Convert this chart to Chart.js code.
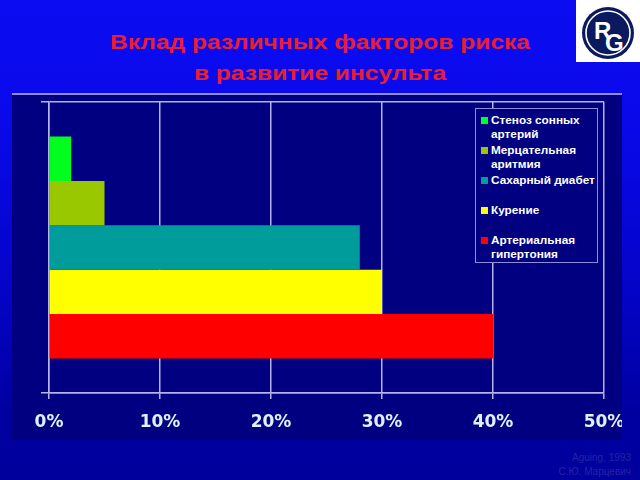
<!DOCTYPE html>
<html lang="ru">
<head>
<meta charset="utf-8">
<title>Вклад различных факторов риска в развитие инсульта</title>
<script src="https://cdn.jsdelivr.net/npm/chart.js@4/dist/chart.umd.min.js"></script>
<style>
  html, body {
    margin: 0;
    padding: 0;
  }
  body {
    width: 640px;
    height: 480px;
    overflow: hidden;
    position: relative;
    font-family: "Liberation Sans", Arial, sans-serif;
    background: linear-gradient(#0c0cf2 0%, #0909ea 25%, #0404c8 60%, #0000a2 85%, #00009c 100%);
  }
  #title {
    position: absolute;
    left: 0;
    top: 26px;
    width: 640px;
    text-align: center;
    color: #e8202e;
    font-weight: bold;
    font-size: 21px;
    line-height: 31px;
    transform: scaleX(1.17);
    transform-origin: 320px 0;
  }
  #logo {
    position: absolute;
    left: 576px;
    top: 0;
  }
  #panel {
    position: absolute;
    left: 12px;
    top: 93px;
    width: 610px;
    height: 347px;
    background: #000080;
    overflow: hidden;
  }
  #panel::before {
    content: "";
    position: absolute;
    left: 0;
    top: 0;
    width: 100%;
    height: 2px;
    background: #8e8ed6;
  }
  #legend {
    position: absolute;
    left: 475px;
    top: 108px;
    width: 121px;
    height: 153px;
    background: #000080;
    border: 1px solid #8e8ed6;
  }
  .legend-item {
    position: absolute;
    left: 15px;
    color: #ffffff;
    font-weight: bold;
    font-size: 11px;
    line-height: 14px;
    white-space: nowrap;
    transform: scaleX(1.07);
    transform-origin: 0 0;
  }
  .legend-swatch {
    position: absolute;
    left: 5px;
    width: 7px;
    height: 7px;
  }
  #source {
    position: absolute;
    right: 9px;
    top: 451px;
    text-align: right;
    color: #2424a8;
    font-size: 10px;
    line-height: 14px;
  }
</style>
</head>
<body>

<div id="title">Вклад различных факторов риска<br>в развитие инсульта</div>

<svg id="logo" width="64" height="62" viewBox="0 0 64 62">
  <rect x="0" y="0" width="64" height="62" fill="#ffffff"></rect>
  <circle cx="32" cy="33" r="26" fill="#0b1a5e"></circle>
  <circle cx="32" cy="33" r="22" fill="none" stroke="#ffffff" stroke-width="1.6"></circle>
  <text x="18" y="39" fill="#ffffff" font-family="Liberation Sans, Arial" font-weight="bold" font-size="24">R</text>
  <text x="29" y="51" fill="#ffffff" font-family="Liberation Sans, Arial" font-weight="bold" font-size="24">G</text>
</svg>

<div id="panel">
  <canvas id="riskChart" width="628" height="347"></canvas>
</div>

<div id="legend"></div>

<div id="source">Aguing, 1993<br>С.Ю. Марцевич</div>

<script>
// Chart data (%)
const categories = [""];
const seriesNames = [
  "Стеноз сонных артерий",
  "Мерцательная аритмия",
  "Сахарный диабет",
  "Курение",
  "Артериальная гипертония",
];
const legendLines = [
  ["Стеноз сонных", "артерий"],
  ["Мерцательная", "аритмия"],
  ["Сахарный диабет"],
  ["Курение"],
  ["Артериальная", "гипертония"],
];
const riskValues = [2, 5, 28, 30, 40];
const seriesColors = ["#00ff1e", "#99c800", "#009c9c", "#ffff00", "#ff0000"];
const xTicks = [0, 10, 20, 30, 40, 50];

const gridColor = "#b4b4ea";

document.addEventListener("DOMContentLoaded", () => {
  initRiskChart();
  buildLegend();
});

function initRiskChart() {
  const ctx = document.getElementById("riskChart");
  if (!ctx) return;

  const datasets = seriesNames.map((name, i) => ({
    label: name,
    data: [riskValues[i]],
    backgroundColor: seriesColors[i],
    borderWidth: 0,
  }));

  new Chart(ctx, {
    type: "bar",
    data: {
      labels: categories,
      datasets: datasets,
    },
    options: {
      indexAxis: "y",
      responsive: false,
      devicePixelRatio: 1,
      animation: false,
      categoryPercentage: 0.763,
      barPercentage: 1,
      layout: {
        padding: { top: 9, right: 36, left: 0, bottom: 0 },
      },
      scales: {
        x: {
          min: xTicks[0],
          max: xTicks[xTicks.length - 1],
          afterBuildTicks: (scale) => {
            scale.ticks = xTicks.map((v) => ({ value: v }));
          },
          afterFit: (scale) => {
            scale.height = 47;
          },
          grid: {
            color: gridColor,
            lineWidth: 1.5,
            tickLength: 6,
          },
          border: {
            color: gridColor,
            width: 1.5,
          },
          ticks: {
            padding: 13,
            color: "#e2efff",
            font: { family: "DejaVu Sans", weight: "bold", size: 17 },
            maxRotation: 0,
            callback: (value) => value + "%",
          },
        },
        y: {
          afterFit: (scale) => {
            scale.width = 37;
          },
          grid: {
            color: gridColor,
            lineWidth: 1.5,
            tickLength: 8,
          },
          border: {
            color: gridColor,
            width: 1.5,
          },
          ticks: {
            display: false,
          },
        },
      },
      plugins: {
        legend: { display: false },
        tooltip: { enabled: false },
      },
    },
  });
}

// Legend box drawn as HTML, lines wrap like on the slide
function buildLegend() {
  const box = document.getElementById("legend");
  legendLines.forEach((lines, i) => {
    const top = 4 + i * 30;

    const swatch = document.createElement("div");
    swatch.className = "legend-swatch";
    swatch.style.top = top + 4 + "px";
    swatch.style.background = seriesColors[i];
    box.appendChild(swatch);

    const text = document.createElement("div");
    text.className = "legend-item";
    text.style.top = top + "px";
    text.innerHTML = lines.join("<br>");
    box.appendChild(text);
  });
}
</script>
</body>
</html>
